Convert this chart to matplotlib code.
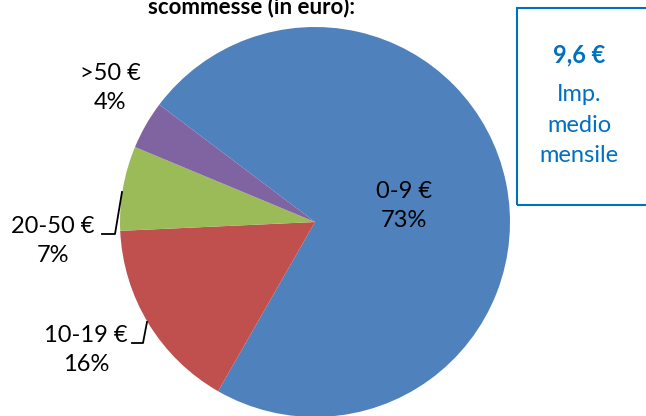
import matplotlib
matplotlib.use("Agg")
import matplotlib.pyplot as plt
from matplotlib.patches import Rectangle

# data
categories = ["0-9 €", "10-19 €", "20-50 €", ">50 €"]
shares = [73, 16, 7, 4]
colors = ["#4F81BD", "#C0504D", "#9BBB59", "#8064A2"]
avg_label = "9,6 €"
avg_text = "Imp.\nmedio\nmensile"
title = "scommesse (in euro):"

plt.rcParams['font.family'] = ['Lato', 'DejaVu Sans']

W, H = 646, 416
fig = plt.figure(figsize=(W / 100, H / 100), dpi=100)
ax = fig.add_axes([0, 0, 1, 1])

def py(y):
    # pixel row from top -> data y
    return H - y

cx, cy, r = 315, 222, 195
ax.pie(shares, colors=colors, startangle=143, counterclock=False,
       center=(cx, py(cy)), radius=r, frame=True,
       wedgeprops=dict(linewidth=0))
ax.set_xlim(0, W)
ax.set_ylim(0, H)
ax.set_aspect('equal')
ax.axis('off')

# slice labels
label_pos = [(404, 206), (86, 350), (53, 241), (110, 88)]
for cat, s, (x, y) in zip(categories, shares, label_pos):
    ax.text(x, py(y), f"{cat}\n{s}%", ha='center', va='center',
            fontsize=17, color='black', linespacing=1.45)

# leader lines
ax.plot([102, 115, 122], [py(234), py(234), py(192)], color='black', lw=1.3)
ax.plot([132, 143, 147], [py(343), py(343), py(322)], color='black', lw=1.3)

# title (partly cut off at top, as in the source)
ax.text(252, py(13), title, ha='center', va='baseline', fontsize=16,
        fontweight='bold', color='black')

# average box
ax.add_patch(Rectangle((517, py(205)), 140, 197, fill=False,
                       edgecolor='#0070C0', lw=1.5, clip_on=False))
ax.text(579, py(55), avg_label, ha='center', va='center', fontsize=17,
        fontweight='bold', color='#0070C0')
ax.text(579, py(125), avg_text, ha='center', va='center', fontsize=17,
        color='#0070C0', linespacing=1.55)

fig.savefig("out.png", dpi=100)
